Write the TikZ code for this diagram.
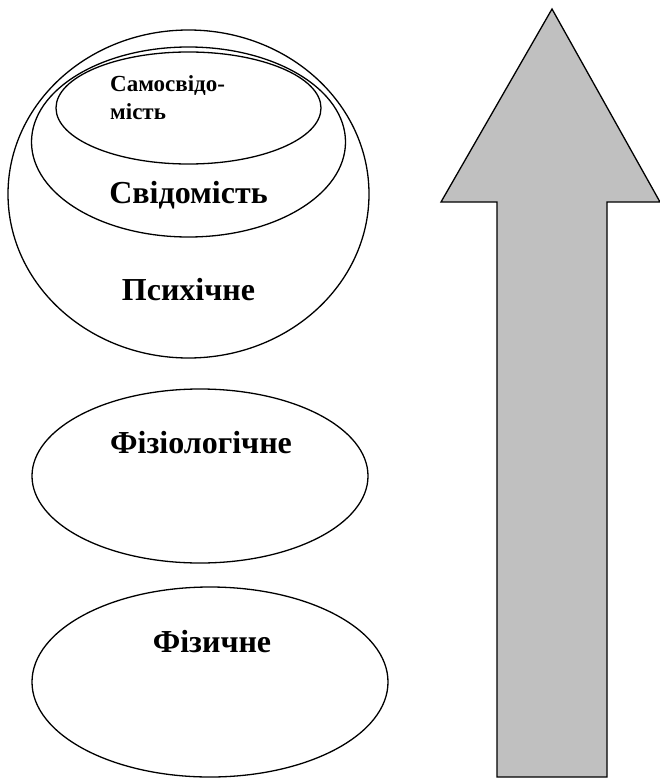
\documentclass[tikz,border=0pt]{standalone}
\usepackage{fontspec}
\setmainfont{Liberation Serif}
\usetikzlibrary{shapes.geometric}
\definecolor{arrowgray}{RGB}{192,192,192}

\begin{document}
\begin{tikzpicture}[x=1pt,y=-1pt,
 level/.style={draw,ellipse,line width=1.3pt,inner sep=0pt},
 caption/.style={font=\bfseries\fontsize{32}{32}\selectfont,anchor=base,inner sep=0pt},
 smallcaption/.style={font=\bfseries\fontsize{23}{28}\selectfont,align=left,anchor=base west,inner sep=0pt},
 upshape/.style={draw,line width=1.3pt,fill=arrowgray,line join=miter}]
\useasboundingbox (0,0) rectangle (660,778);
% nested levels
\node[level,minimum width=361pt,minimum height=328pt] (psych) at (188.5,194) {};
\node[level,minimum width=314pt,minimum height=190pt] (consc) at (188.5,142) {};
\node[level,minimum width=265pt,minimum height=112pt] (selfc) at (188.5,108) {};
\node[level,minimum width=336pt,minimum height=174pt] (physio) at (200,476) {};
\node[level,minimum width=356pt,minimum height=190pt] (phys) at (210,682) {};
% labels
\node[smallcaption] (tselfc) at (110,120) {Самосвідо-\\мість};
\node[caption] (tconsc) at (188.5,203) {Свідомість};
\node[caption] (tpsych) at (188.5,300) {Психічне};
\node[caption] (tphysio) at (201,453) {Фізіологічне};
\node[caption] (tphys) at (212,652) {Фізичне};
% upward arrow
\draw[upshape] (552,9) -- (660,202) -- (607,202) -- (607,777) -- (497,777)
  -- (497,202) -- (441,202) -- cycle;
\end{tikzpicture}
\end{document}
